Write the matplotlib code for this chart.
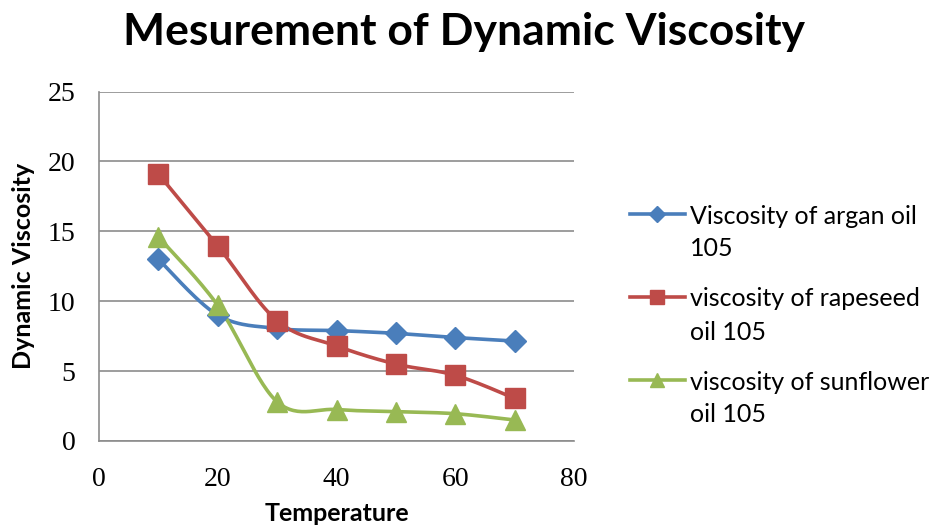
import numpy as np
import matplotlib.pyplot as plt
from matplotlib.lines import Line2D

# data
temperature = [10, 20, 30, 40, 50, 60, 70]
argan = [13.0, 9.0, 8.05, 7.9, 7.7, 7.4, 7.15]
rapeseed = [19.1, 13.95, 8.6, 6.8, 5.5, 4.7, 3.05]
sunflower = [14.6, 9.7, 2.8, 2.25, 2.1, 1.95, 1.5]

labels = [['Viscosity of argan oil', '105'],
          ['viscosity of rapeseed', 'oil 105'],
          ['viscosity of sunflower', 'oil 105']]
colors = ['#4A7EBB', '#BE4B48', '#98B954']
markers = ['D', 's', '^']
msizes = [11, 14, 14]

plt.rcParams['font.family'] = ['Lato', 'DejaVu Sans']


def smooth(x, y, n=30):
    # excel style smoothed line: bezier segments, control points from neighbours
    x = np.asarray(x, float)
    y = np.asarray(y, float)
    px = np.concatenate([[x[0]], x, [x[-1]]])
    py = np.concatenate([[y[0]], y, [y[-1]]])
    xs, ys = [], []
    t = np.linspace(0, 1, n)
    for i in range(1, len(px) - 2):
        p0 = np.array([px[i - 1], py[i - 1]])
        p1 = np.array([px[i], py[i]])
        p2 = np.array([px[i + 1], py[i + 1]])
        p3 = np.array([px[i + 2], py[i + 2]])
        c1 = p1 + (p2 - p0) / 6
        c2 = p2 - (p3 - p1) / 6
        b = ((1 - t) ** 3)[:, None] * p1 + (3 * (1 - t) ** 2 * t)[:, None] * c1 \
            + (3 * (1 - t) * t ** 2)[:, None] * c2 + (t ** 3)[:, None] * p2
        xs.extend(b[:, 0])
        ys.extend(b[:, 1])
    return xs, ys


W, H = 937, 529
fig = plt.figure(figsize=(W / 100, H / 100), dpi=100)
ax = fig.add_axes([0.1057, 0.1664, 0.507, 0.6605])

for series, c, m, ms in zip([argan, rapeseed, sunflower], colors, markers, msizes):
    sx, sy = smooth(temperature, series)
    ax.plot(sx, sy, color=c, lw=2.6, zorder=3)
    ax.plot(temperature, series, ls='none', marker=m, ms=ms, color=c, zorder=4)

ax.set_xlim(0, 80)
ax.set_ylim(0, 25)
ax.set_xticks(range(0, 81, 20))
ax.set_yticks(range(0, 26, 5))
ax.yaxis.grid(True, color='#8C8C8C', lw=1.2)
ax.set_axisbelow(True)
for s in ['top', 'right']:
    ax.spines[s].set_visible(False)
for s in ['left', 'bottom']:
    ax.spines[s].set_color('#8C8C8C')
    ax.spines[s].set_linewidth(1.2)
ax.tick_params(length=0)
for lbl in ax.get_xticklabels() + ax.get_yticklabels():
    lbl.set_family('Liberation Serif')
    lbl.set_fontsize(20)
ax.tick_params(axis='y', pad=17)
ax.tick_params(axis='x', pad=19)

ax.set_xlabel('Temperature', fontsize=18, fontweight='bold', labelpad=7)
ax.set_ylabel('Dynamic Viscosity', fontsize=18, fontweight='bold', labelpad=9)

fig.text(0.495, 1 - 32 / H, 'Mesurement of Dynamic Viscosity', fontsize=32, fontweight='bold',
         ha='center', va='center')

# legend drawn by hand so the key sits on the first text line like in excel
for i, (lab, c, m, ms) in enumerate(zip(labels, colors, markers, msizes)):
    y0 = 214 + 83 * i
    fig.add_artist(Line2D([630 / W, 685 / W], [1 - y0 / H] * 2, color=c, lw=2.6))
    fig.add_artist(Line2D([657.5 / W], [1 - y0 / H], color=c, marker=m, ms=ms * 0.75))
    fig.text(690 / W, 1 - y0 / H, lab[0], fontsize=18, va='center_baseline', ha='left')
    fig.text(690 / W, 1 - (y0 + 33) / H, lab[1], fontsize=18, va='center_baseline', ha='left')

fig.savefig('out.png', dpi=100)
